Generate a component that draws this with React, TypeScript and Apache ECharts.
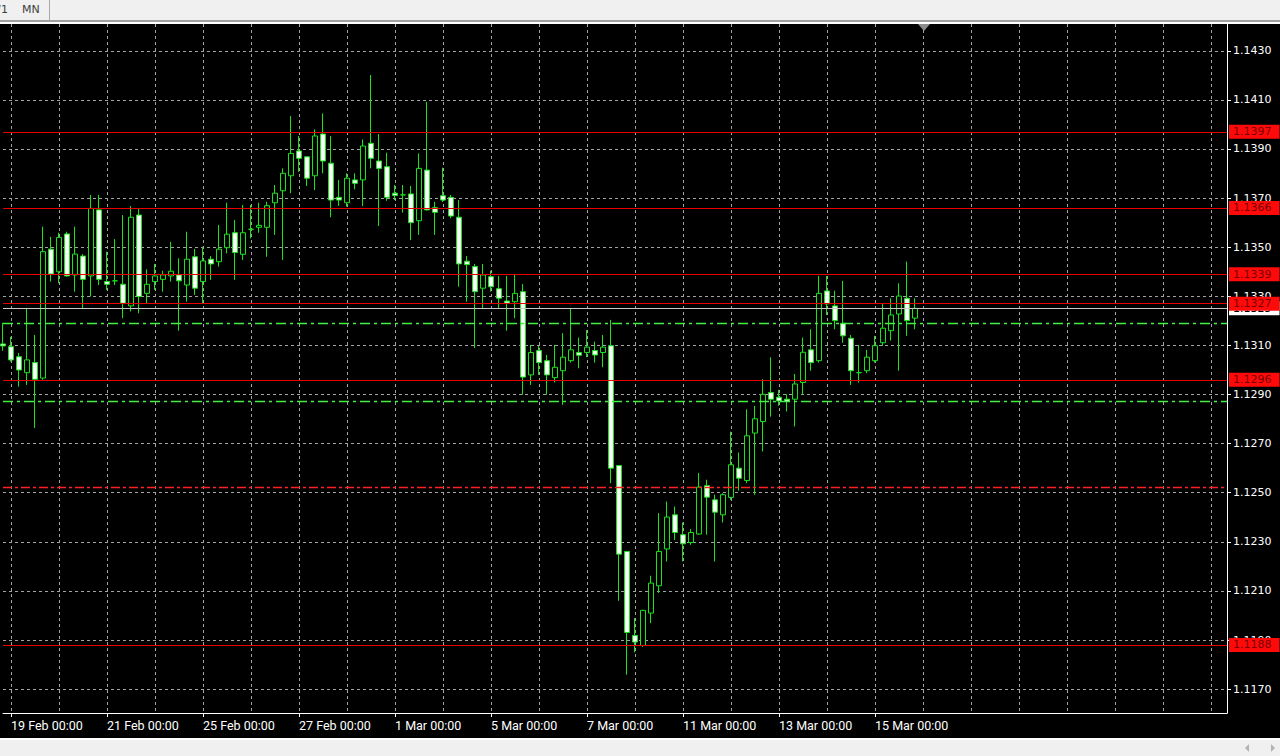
import React, { useEffect, useRef } from 'react';
import * as echarts from 'echarts';

// ---- Data (EURUSD H4) ----
const tradingDays = ['19 Feb', '20 Feb', '21 Feb', '22 Feb', '25 Feb', '26 Feb', '27 Feb', '28 Feb', '1 Mar', '4 Mar', '5 Mar', '6 Mar', '7 Mar', '8 Mar', '11 Mar', '12 Mar', '13 Mar', '14 Mar', '15 Mar'];
const sessionHours = ['00:00', '04:00', '08:00', '12:00', '16:00', '20:00'];
const firstCandleTime = '18 Feb 20:00';

const opens = [1.13106, 1.13095, 1.13054, 1.12989, 1.13030, 1.12967, 1.13492, 1.13400, 1.13554, 1.13387, 1.13464, 1.13383, 1.13652, 1.13360, 1.13363, 1.13349, 1.13261, 1.13631, 1.13312, 1.13360, 1.13369, 1.13383, 1.13387, 1.13346, 1.13461, 1.13360, 1.13451, 1.13441, 1.13498, 1.13559, 1.13471, 1.13573, 1.13581, 1.13581, 1.13681, 1.13730, 1.13791, 1.13892, 1.13868, 1.13791, 1.13961, 1.13842, 1.13703, 1.13681, 1.13774, 1.13774, 1.13923, 1.13851, 1.13828, 1.13720, 1.13713, 1.13717, 1.13608, 1.13814, 1.13661, 1.13710, 1.13703, 1.13622, 1.13443, 1.13421, 1.13333, 1.13380, 1.13331, 1.13281, 1.13278, 1.13319, 1.12980, 1.13079, 1.13038, 1.12969, 1.12997, 1.13038, 1.13071, 1.13071, 1.13079, 1.13071, 1.13099, 1.12611, 1.12261, 1.11919, 1.11878, 1.12010, 1.12121, 1.12271, 1.12410, 1.12329, 1.12297, 1.12332, 1.12529, 1.12471, 1.12410, 1.12481, 1.12600, 1.12550, 1.12743, 1.12790, 1.12908, 1.12889, 1.12881, 1.12881, 1.12949, 1.13082, 1.13038, 1.13322, 1.13261, 1.13190, 1.13129, 1.12989, 1.12997, 1.13038, 1.13111, 1.13160, 1.13228, 1.13292, 1.13211];
const highs = [1.13192, 1.13135, 1.13069, 1.13253, 1.13143, 1.13584, 1.13542, 1.13559, 1.13563, 1.13584, 1.13472, 1.13713, 1.13713, 1.13482, 1.13533, 1.13631, 1.13668, 1.13658, 1.13410, 1.13432, 1.13404, 1.13522, 1.13455, 1.13563, 1.13493, 1.13502, 1.13464, 1.13590, 1.13681, 1.13611, 1.13672, 1.13672, 1.13681, 1.13685, 1.13753, 1.13821, 1.14034, 1.13953, 1.13870, 1.13980, 1.14045, 1.13953, 1.13774, 1.13801, 1.13801, 1.13939, 1.14201, 1.13961, 1.13885, 1.13753, 1.13753, 1.13749, 1.13882, 1.14092, 1.13685, 1.13824, 1.13713, 1.13692, 1.13464, 1.13432, 1.13432, 1.13404, 1.13383, 1.13383, 1.13387, 1.13350, 1.13102, 1.13098, 1.13061, 1.13102, 1.13150, 1.13251, 1.13132, 1.13163, 1.13115, 1.13143, 1.13204, 1.12613, 1.12263, 1.11990, 1.12023, 1.12162, 1.12417, 1.12464, 1.12444, 1.12379, 1.12352, 1.12580, 1.12553, 1.12492, 1.12498, 1.12749, 1.12664, 1.12840, 1.12854, 1.12962, 1.13052, 1.12919, 1.12901, 1.12984, 1.13132, 1.13166, 1.13383, 1.13383, 1.13323, 1.13363, 1.13143, 1.13102, 1.13082, 1.13139, 1.13272, 1.13292, 1.13353, 1.13441, 1.13292];
const lows = [1.13078, 1.13034, 1.12932, 1.12939, 1.12764, 1.12960, 1.13360, 1.13353, 1.13380, 1.13319, 1.13251, 1.13299, 1.13346, 1.13326, 1.13346, 1.13211, 1.13238, 1.13231, 1.13269, 1.13326, 1.13319, 1.13360, 1.13160, 1.13278, 1.13306, 1.13272, 1.13367, 1.13421, 1.13475, 1.13367, 1.13448, 1.13536, 1.13559, 1.13461, 1.13550, 1.13448, 1.13720, 1.13807, 1.13749, 1.13733, 1.13801, 1.13622, 1.13668, 1.13665, 1.13736, 1.13668, 1.13821, 1.13586, 1.13689, 1.13692, 1.13641, 1.13529, 1.13550, 1.13649, 1.13550, 1.13684, 1.13618, 1.13339, 1.13278, 1.13089, 1.13251, 1.13319, 1.13251, 1.13160, 1.13211, 1.12899, 1.12939, 1.12980, 1.12899, 1.12949, 1.12858, 1.13030, 1.13007, 1.13052, 1.13030, 1.13011, 1.12539, 1.12060, 1.11759, 1.11850, 1.11872, 1.11969, 1.12092, 1.12220, 1.12308, 1.12220, 1.12288, 1.12329, 1.12329, 1.12220, 1.12379, 1.12471, 1.12509, 1.12539, 1.12492, 1.12668, 1.12810, 1.12854, 1.12831, 1.12770, 1.12899, 1.12997, 1.13030, 1.13224, 1.13166, 1.13111, 1.12939, 1.12949, 1.12987, 1.13030, 1.13098, 1.13120, 1.12997, 1.13139, 1.13166];
const closes = [1.13098, 1.13041, 1.13000, 1.13041, 1.12962, 1.13482, 1.13391, 1.13540, 1.13383, 1.13472, 1.13369, 1.13658, 1.13369, 1.13349, 1.13363, 1.13272, 1.13622, 1.13299, 1.13349, 1.13383, 1.13387, 1.13402, 1.13363, 1.13451, 1.13333, 1.13444, 1.13432, 1.13492, 1.13553, 1.13478, 1.13559, 1.13573, 1.13589, 1.13669, 1.13720, 1.13801, 1.13882, 1.13862, 1.13781, 1.13953, 1.13851, 1.13692, 1.13692, 1.13781, 1.13760, 1.13912, 1.13862, 1.13821, 1.13703, 1.13711, 1.13713, 1.13600, 1.13821, 1.13652, 1.13642, 1.13692, 1.13627, 1.13432, 1.13429, 1.13319, 1.13387, 1.13339, 1.13292, 1.13272, 1.13312, 1.12971, 1.13071, 1.13030, 1.12980, 1.13011, 1.13052, 1.13082, 1.13060, 1.13093, 1.13061, 1.13093, 1.12600, 1.12250, 1.11931, 1.11892, 1.12021, 1.12132, 1.12261, 1.12401, 1.12338, 1.12292, 1.12338, 1.12523, 1.12482, 1.12421, 1.12492, 1.12614, 1.12559, 1.12732, 1.12801, 1.12901, 1.12881, 1.12874, 1.12872, 1.12943, 1.13072, 1.13030, 1.13312, 1.13269, 1.13201, 1.13139, 1.12997, 1.12989, 1.13052, 1.13099, 1.13170, 1.13224, 1.13301, 1.13201, 1.13251];

const priceTicks = [1.117, 1.119, 1.121, 1.123, 1.125, 1.127, 1.129, 1.131, 1.133, 1.135, 1.137, 1.139, 1.141, 1.143];
const redLevels = [1.1397, 1.1366, 1.1339, 1.1327, 1.1296, 1.1188];
const dashDotRedLevels = [1.12521];
const dashDotGreenLevels = [1.13189, 1.12871];
const futureSlots = 39;

const Y_MIN = 1.11603;
const Y_MAX = 1.14409;

const GREEN = '#18e418';
const GRID = '#a4a4a4';

export default function App() {
  const ref = useRef<HTMLDivElement>(null);

  useEffect(() => {
    if (!ref.current) return;
    const chart = echarts.init(ref.current, undefined, { renderer: 'svg' });

    const times: string[] = [firstCandleTime];
    tradingDays.forEach((d) => sessionHours.forEach((h) => times.push(d + ' ' + h)));
    const categories = [...times, ...Array(futureSlots).fill('')];
    const lastIdx = times.length - 1; // category index of last candle

    const candleData = opens.map((o, i) => [o, closes[i], lows[i], highs[i]]);
    const bid = closes[closes.length - 1];

    const isLabelIdx = (index: number) => index >= 1 && index <= lastIdx && (index - 1) % 12 === 0;
    const isGridIdx = (index: number) => index >= 1 && (index - 1) % 6 === 0;

    const boxLabel = (txt: string, bg: string, fg: string) => ({
      show: true,
      position: 'end',
      distance: 2,
      formatter: txt,
      backgroundColor: bg,
      color: fg,
      padding: [1, 8, 1, 4],
      fontFamily: 'DejaVu Sans',
      fontSize: 11,
      lineHeight: 12,
    });

    const markData: any[] = [
      {
        yAxis: bid,
        lineStyle: { color: '#c8c8c8', type: 'solid', width: 1 },
        label: boxLabel(bid.toFixed(4), '#ffffff', '#000000'),
      },
      ...redLevels.map((v) => ({
        yAxis: v,
        lineStyle: { color: '#e80000', type: 'solid', width: 1 },
        label: boxLabel(v.toFixed(4), '#ff0a0a', '#7a0000'),
      })),
      ...dashDotRedLevels.map((v) => ({
        yAxis: v,
        lineStyle: { color: '#ff2020', type: [9, 3, 3, 3], width: 1.3 },
        label: { show: false },
      })),
      ...dashDotGreenLevels.map((v) => ({
        yAxis: v,
        lineStyle: { color: '#44f044', type: [10, 4, 3, 4], width: 1.4 },
        label: { show: false },
      })),
    ];

    const option: any = {
      animation: false,
      backgroundColor: '#000000',
      grid: { left: 3, right: 53, top: 24, bottom: 43, containLabel: false },
      xAxis: {
        type: 'category',
        data: categories,
        boundaryGap: false,
        axisLine: { show: true, lineStyle: { color: '#ffffff', width: 1 } },
        axisTick: { show: true, length: 4, interval: isLabelIdx, lineStyle: { color: '#ffffff' } },
        axisLabel: {
          show: true,
          interval: isLabelIdx,
          color: '#ffffff',
          align: 'left',
          margin: 6,
          fontFamily: 'Roboto',
          fontSize: 12.5,
        },
        splitLine: { show: true, interval: isGridIdx, lineStyle: { color: GRID, type: [3, 3], width: 1 } },
      },
      yAxis: {
        type: 'value',
        position: 'right',
        min: Y_MIN,
        max: Y_MAX,
        scale: true,
        axisLine: { show: true, lineStyle: { color: '#ffffff', width: 1 } },
        axisTick: { show: true, length: 4, customValues: priceTicks, lineStyle: { color: '#ffffff' } },
        axisLabel: {
          show: true,
          customValues: priceTicks,
          color: '#ffffff',
          margin: 6,
          fontFamily: 'DejaVu Sans',
          fontSize: 11,
          formatter: (v: number) => v.toFixed(4),
        },
        splitLine: { show: true, lineStyle: { color: GRID, type: [3, 3], width: 1 } },
      },
      series: [
        {
          type: 'candlestick',
          data: candleData,
          barWidth: 5,
          clip: false,
          itemStyle: {
            color: '#000000',
            color0: '#ffffff',
            borderColor: GREEN,
            borderColor0: GREEN,
            borderColorDoji: GREEN,
            borderWidth: 1,
          },
          markLine: {
            silent: true,
            symbol: ['none', 'none'],
            animation: false,
            precision: 5,
            data: markData,
          },
        },
      ],
      graphic: [
        { type: 'rect', z: 100, shape: { x: 0, y: 0, width: 1280, height: 20 }, style: { fill: '#f0f0f0' } },
        { type: 'text', z: 101, x: -10, y: 4, style: { text: 'W1', fill: '#404040', font: '11px "DejaVu Sans"' } },
        { type: 'text', z: 101, x: 22, y: 4, style: { text: 'MN', fill: '#404040', font: '11px "DejaVu Sans"' } },
        { type: 'rect', z: 101, shape: { x: 49, y: 0, width: 1, height: 20 }, style: { fill: '#a8a8a8' } },
        { type: 'rect', z: 100, shape: { x: 0, y: 20, width: 1280, height: 2 }, style: { fill: '#a0a0a0' } },
        { type: 'rect', z: 100, shape: { x: 0, y: 22, width: 1280, height: 2 }, style: { fill: '#ffffff' } },
        { type: 'rect', z: 100, shape: { x: 0, y: 738, width: 1280, height: 2 }, style: { fill: '#ffffff' } },
        { type: 'rect', z: 100, shape: { x: 0, y: 740, width: 1280, height: 16 }, style: { fill: '#f0f0f0' } },
        { type: 'polygon', z: 101, shape: { points: [[1249, 744], [1249, 752], [1245, 748]] }, style: { fill: '#b4b4b4' } },
        { type: 'polygon', z: 101, shape: { points: [[1271, 744], [1271, 752], [1275, 748]] }, style: { fill: '#b4b4b4' } },
        { type: 'polygon', z: 101, shape: { points: [[918, 24], [930, 24], [924, 31]] }, style: { fill: '#8c8c8c' } },
      ],
    };

    chart.setOption(option);
    return () => chart.dispose();
  }, []);

  return <div ref={ref} style={{ position: 'fixed', left: 0, top: 0, width: 1280, height: 756 }} />;
}
